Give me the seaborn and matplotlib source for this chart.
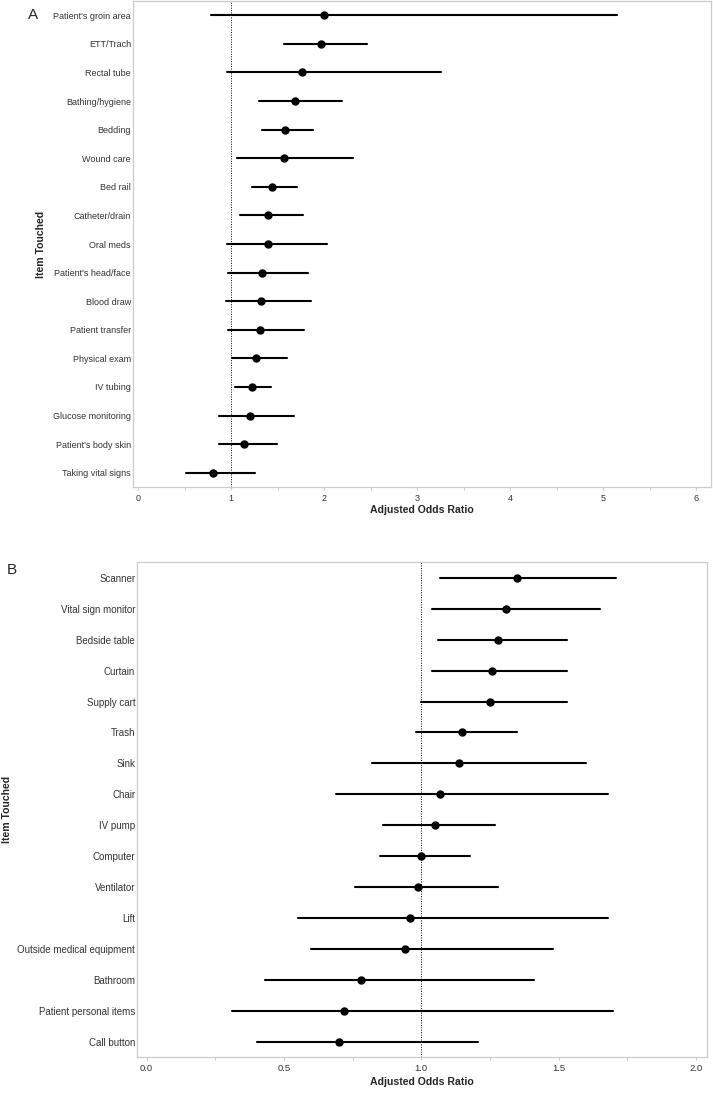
import matplotlib
matplotlib.use('Agg')
import matplotlib.pyplot as plt
import matplotlib.ticker as ticker
import pandas as pd
import seaborn as sns

# Panel A: care activities
items_a = ["Patient's groin area", 'ETT/Trach', 'Rectal tube', 'Bathing/hygiene', 'Bedding',
           'Wound care', 'Bed rail', 'Catheter/drain', 'Oral meds', "Patient's head/face",
           'Blood draw', 'Patient transfer', 'Physical exam', 'IV tubing', 'Glucose monitoring',
           "Patient's body skin", 'Taking vital signs']
or_a = [2.00, 1.97, 1.76, 1.69, 1.58, 1.57, 1.44, 1.39, 1.39, 1.33, 1.32, 1.31, 1.27, 1.22, 1.20, 1.14, 0.80]
lo_a = [0.785, 1.57, 0.954, 1.30, 1.334, 1.062, 1.223, 1.094, 0.954, 0.965, 0.947, 0.965, 1.008, 1.044, 0.872, 0.872, 0.513]
hi_a = [5.15, 2.46, 3.26, 2.19, 1.876, 2.306, 1.707, 1.769, 2.027, 1.829, 1.858, 1.786, 1.597, 1.428, 1.679, 1.489, 1.259]

# Panel B: room surfaces / equipment
items_b = ['Scanner', 'Vital sign monitor', 'Bedside table', 'Curtain', 'Supply cart', 'Trash', 'Sink',
           'Chair', 'IV pump', 'Computer', 'Ventilator', 'Lift', 'Outside medical equipment',
           'Bathroom', 'Patient personal items', 'Call button']
or_b = [1.348, 1.308, 1.279, 1.259, 1.249, 1.149, 1.138, 1.068, 1.05, 1.0, 0.989, 0.959, 0.939, 0.779, 0.720, 0.699]
lo_b = [1.069, 1.040, 1.059, 1.040, 1.0, 0.981, 0.820, 0.689, 0.859, 0.849, 0.760, 0.550, 0.599, 0.431, 0.311, 0.400]
hi_b = [1.709, 1.649, 1.529, 1.529, 1.529, 1.347, 1.598, 1.678, 1.268, 1.178, 1.278, 1.678, 1.478, 1.409, 1.699, 1.207]


def long_table(items, est, lo, hi):
    # three rows per item so median = estimate and full range = CI
    rows = []
    for it, e, l, h in zip(items, est, lo, hi):
        for v in (l, e, h):
            rows.append({'item': it, 'value': v})
    return pd.DataFrame(rows)


sns.set_theme(style='white')
plt.rcParams['font.family'] = ['Liberation Sans', 'DejaVu Sans']

fig = plt.figure(figsize=(7.13, 10.93), dpi=100)
ax_a = fig.add_axes([133 / 713, 1 - 487 / 1093, (711 - 133) / 713, (487 - 1) / 1093])
ax_b = fig.add_axes([137.3 / 713, 1 - 1057.3 / 1093, (707.3 - 137.3) / 713, (1057.3 - 562.3) / 1093])


def draw_panel(ax, items, est, lo, hi, xlim, major, minor, fmt, lab_size, tick_size):
    df = long_table(items, est, lo, hi)
    sns.pointplot(data=df, x='value', y='item', order=items, orient='y',
                  estimator='median', errorbar=('pi', 100), linestyle='none',
                  marker='o', markersize=4, color='black',
                  err_kws={'linewidth': 1.5}, ax=ax)
    ax.axvline(1, color='black', linestyle=(0, (1, 1.5)), linewidth=0.7, zorder=0)
    ax.set_xlim(*xlim)
    ax.set_ylim(len(items) - 0.5, -0.5)
    ax.xaxis.set_major_locator(ticker.MultipleLocator(major))
    ax.xaxis.set_minor_locator(ticker.MultipleLocator(minor))
    ax.xaxis.set_major_formatter(ticker.FormatStrFormatter(fmt))
    ax.tick_params(axis='x', which='both', bottom=True, length=2.5, width=0.8,
                   color='#cccccc', labelsize=tick_size, labelcolor='#333333', pad=2.5)
    ax.tick_params(axis='y', length=0, labelsize=lab_size, labelcolor='#333333', pad=1.5)
    for s in ax.spines.values():
        s.set_visible(True)
        s.set_color('#cccccc')
        s.set_linewidth(0.9)
    ax.set_xlabel('Adjusted Odds Ratio', fontsize=7.6, fontweight='bold', va='top')
    ax.set_ylabel('Item Touched', fontsize=7.6, fontweight='bold')


draw_panel(ax_a, items_a, or_a, lo_a, hi_a, (-0.057, 6.16), 1, 0.5, '%d', 6.5, 6.5)
draw_panel(ax_b, items_b, or_b, lo_b, hi_b, (-0.034, 2.041), 0.5, 0.25, '%.1f', 7.0, 6.8)

ax_a.xaxis.set_label_coords(0.5, -0.037)
ax_a.yaxis.set_label_coords((46 - 133) / 578, 0.5)
ax_b.xaxis.set_label_coords(0.5, -0.040)
ax_b.yaxis.set_label_coords((12.5 - 137.3) / 570, 0.5)

fig.text(33 / 713, 1 - 15 / 1093, 'A', fontsize=11, ha='center', va='center')
fig.text(12 / 713, 1 - 570 / 1093, 'B', fontsize=11, ha='center', va='center')

fig.savefig('out.png', dpi=100)
